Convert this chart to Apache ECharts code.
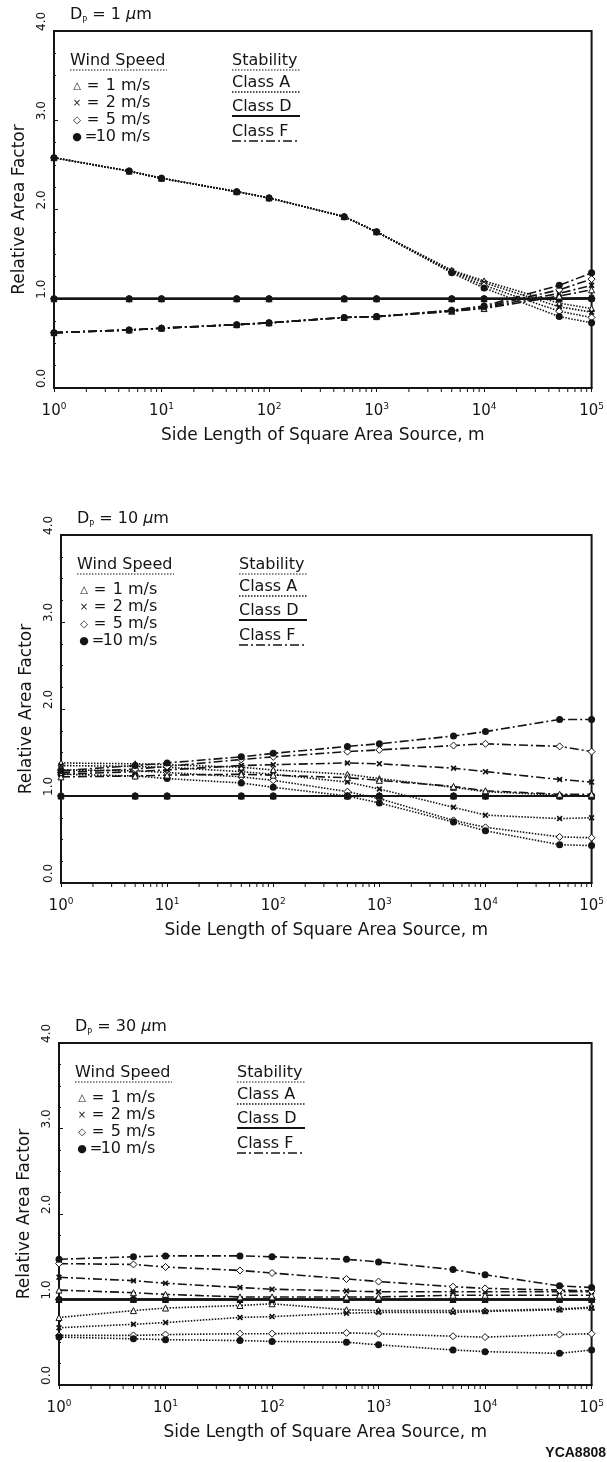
<!DOCTYPE html>
<html><head><meta charset="utf-8">
<script src="https://cdn.jsdelivr.net/npm/echarts@6/dist/echarts.min.js"></script>
<style>html,body{margin:0;padding:0;background:#fff}#c{width:607px;height:1462px}</style>
</head><body><div id="c"></div>
<script>
// ---------- data ----------
const sideLengths = [1, 5, 10, 50, 100, 500, 1000, 5000, 10000, 50000, 100000];
const xMinorTicks = [2,3,4,5,6,7,8,9, 20,30,40,50,60,70,80,90, 200,300,400,500,600,700,800,900,
  2000,3000,4000,5000,6000,7000,8000,9000, 20000,30000,40000,50000,60000,70000,80000,90000];
const particleSizes = ['1', '10', '30'];
const windSpeeds = ['1', '2', '5', '10'];
const windSymbols = ['△', '×', '◇', '●'];
const stabilityClasses = ['Class A', 'Class D', 'Class F'];

// Panel 1: Dp = 1 um
const p1A1  = [2.58, 2.43, 2.35, 2.20, 2.13, 1.92, 1.75, 1.32, 1.20, 0.95, 0.89];
const p1A2  = [2.58, 2.43, 2.35, 2.20, 2.13, 1.92, 1.75, 1.31, 1.18, 0.91, 0.85];
const p1A5  = [2.58, 2.43, 2.35, 2.20, 2.13, 1.92, 1.75, 1.30, 1.15, 0.86, 0.79];
const p1A10 = [2.58, 2.43, 2.35, 2.20, 2.13, 1.92, 1.75, 1.29, 1.12, 0.80, 0.73];
const p1D1  = [1.00, 1.00, 1.00, 1.00, 1.00, 1.00, 1.00, 1.00, 1.00, 1.00, 1.01];
const p1D2  = [1.00, 1.00, 1.00, 1.00, 1.00, 1.00, 1.00, 1.00, 1.00, 1.00, 1.01];
const p1D5  = [1.00, 1.00, 1.00, 1.00, 1.00, 1.00, 1.00, 1.00, 1.00, 1.00, 1.00];
const p1D10 = [1.00, 1.00, 1.00, 1.00, 1.00, 1.00, 1.00, 1.00, 1.00, 1.00, 1.00];
const p1F1  = [0.62, 0.65, 0.67, 0.71, 0.73, 0.79, 0.80, 0.86, 0.89, 1.03, 1.10];
const p1F2  = [0.62, 0.65, 0.67, 0.71, 0.73, 0.79, 0.80, 0.86, 0.90, 1.06, 1.15];
const p1F5  = [0.62, 0.65, 0.67, 0.71, 0.73, 0.79, 0.80, 0.87, 0.91, 1.10, 1.22];
const p1F10 = [0.62, 0.65, 0.67, 0.71, 0.73, 0.79, 0.80, 0.87, 0.92, 1.15, 1.29];

// Panel 2: Dp = 10 um
const p2A1  = [1.38, 1.37, 1.36, 1.33, 1.30, 1.25, 1.20, 1.10, 1.05, 1.01, 1.00];
const p2A2  = [1.35, 1.34, 1.33, 1.28, 1.25, 1.16, 1.08, 0.87, 0.78, 0.74, 0.75];
const p2A5  = [1.30, 1.29, 1.27, 1.22, 1.18, 1.05, 0.97, 0.72, 0.64, 0.53, 0.52];
const p2A10 = [1.25, 1.23, 1.20, 1.15, 1.10, 1.00, 0.92, 0.70, 0.60, 0.44, 0.43];
const p2D1  = [1.00, 1.00, 1.00, 1.00, 1.00, 1.00, 1.00, 1.00, 1.00, 1.00, 1.00];
const p2D2  = [1.00, 1.00, 1.00, 1.00, 1.00, 1.00, 1.00, 1.00, 1.00, 1.00, 1.00];
const p2D5  = [1.00, 1.00, 1.00, 1.00, 1.00, 1.00, 1.00, 1.00, 1.00, 1.00, 1.00];
const p2D10 = [1.00, 1.00, 1.00, 1.00, 1.00, 1.00, 1.00, 1.00, 1.00, 1.00, 1.00];
const p2F1  = [1.22, 1.23, 1.24, 1.25, 1.24, 1.21, 1.18, 1.11, 1.06, 1.02, 1.02];
const p2F2  = [1.25, 1.28, 1.30, 1.35, 1.36, 1.38, 1.37, 1.32, 1.28, 1.19, 1.16];
const p2F5  = [1.27, 1.31, 1.34, 1.42, 1.45, 1.51, 1.53, 1.58, 1.60, 1.57, 1.51];
const p2F10 = [1.29, 1.35, 1.38, 1.45, 1.49, 1.57, 1.60, 1.69, 1.74, 1.88, 1.88];

// Panel 3: Dp = 30 um
const p3A1  = [0.79, 0.87, 0.90, 0.93, 0.95, 0.88, 0.87, 0.87, 0.87, 0.89, 0.91];
const p3A2  = [0.67, 0.71, 0.73, 0.79, 0.80, 0.84, 0.85, 0.85, 0.86, 0.88, 0.90];
const p3A5  = [0.58, 0.58, 0.59, 0.60, 0.60, 0.61, 0.60, 0.57, 0.56, 0.59, 0.60];
const p3A10 = [0.56, 0.54, 0.53, 0.52, 0.51, 0.50, 0.47, 0.41, 0.39, 0.37, 0.41];
const p3D1  = [1.00, 1.00, 1.00, 1.00, 1.00, 1.00, 1.00, 1.00, 1.00, 1.00, 1.00];
const p3D2  = [1.00, 1.00, 1.00, 1.00, 1.00, 1.00, 1.00, 1.00, 1.00, 1.00, 1.00];
const p3D5  = [1.00, 1.00, 1.00, 1.00, 1.00, 1.00, 1.00, 1.00, 1.00, 1.00, 1.00];
const p3D10 = [1.00, 1.00, 1.00, 1.00, 1.00, 1.00, 1.00, 1.00, 1.00, 1.00, 1.00];
const p3F1  = [1.11, 1.08, 1.06, 1.03, 1.03, 1.03, 1.03, 1.05, 1.05, 1.05, 1.05];
const p3F2  = [1.26, 1.22, 1.19, 1.14, 1.12, 1.10, 1.09, 1.09, 1.09, 1.09, 1.09];
const p3F5  = [1.42, 1.41, 1.38, 1.34, 1.31, 1.24, 1.21, 1.15, 1.13, 1.11, 1.10];
const p3F10 = [1.47, 1.50, 1.51, 1.51, 1.50, 1.47, 1.44, 1.35, 1.29, 1.16, 1.14];

// ---------- layout / style ----------
const FONT = 'DejaVu Sans';
const INK = '#141414';
const grids = [
  {left: 54, top: 31, width: 538, height: 357},
  {left: 61, top: 535, width: 536, height: 348},
  {left: 59, top: 1043, width: 538, height: 342}
];
const panels = [
  {A: [p1A1, p1A2, p1A5, p1A10], D: [p1D1, p1D2, p1D5, p1D10], F: [p1F1, p1F2, p1F5, p1F10]},
  {A: [p2A1, p2A2, p2A5, p2A10], D: [p2D1, p2D2, p2D5, p2D10], F: [p2F1, p2F2, p2F5, p2F10]},
  {A: [p3A1, p3A2, p3A5, p3A10], D: [p3D1, p3D2, p3D5, p3D10], F: [p3F1, p3F2, p3F5, p3F10]}
];
const crossPath = 'path://M2,0 L5,3 L8,0 L10,2 L7,5 L10,8 L8,10 L5,7 L2,10 L0,8 L3,5 L0,2 Z';
const markerStyles = [
  {symbol: 'triangle', symbolSize: 6, itemStyle: {color: '#fff', borderColor: INK, borderWidth: 1}},
  {symbol: crossPath, symbolSize: 6, itemStyle: {color: INK, borderWidth: 0}},
  {symbol: 'diamond', symbolSize: 7, itemStyle: {color: '#fff', borderColor: INK, borderWidth: 1}},
  {symbol: 'circle', symbolSize: 7, itemStyle: {color: INK, borderWidth: 0}}
];
const lineStyles = {
  A: {color: INK, width: 1.6, type: [1.5, 1.5]},
  D: {color: INK, width: 1.8, type: 'solid'},
  F: {color: INK, width: 1.6, type: [9, 3, 2, 3]}
};

const xAxes = [], yAxes = [], series = [], titles = [], graphics = [];
grids.forEach((g, i) => {
  xAxes.push({
    type: 'log', logBase: 10, min: 1, max: 100000, gridIndex: i,
    name: 'Side Length of Square Area Source, m', nameLocation: 'middle', nameGap: 39,
    nameTextStyle: {fontFamily: FONT, fontSize: 17, color: INK},
    axisLine: {lineStyle: {color: INK, width: 2}},
    axisTick: {show: true, inside: false, length: 4, lineStyle: {color: INK, width: 1}},
    splitLine: {show: false},
    axisLabel: {
      margin: 14, showMinLabel: true, showMaxLabel: true,
      formatter: v => '{a|10}{b|' + Math.round(Math.log10(v)) + '}',
      rich: {
        a: {fontFamily: FONT, fontSize: 15, color: INK, lineHeight: 18},
        b: {fontFamily: FONT, fontSize: 9, color: INK, lineHeight: 9, verticalAlign: 'top'}
      }
    }
  });
  yAxes.push({
    type: 'value', min: 0, max: 4, interval: 1, gridIndex: i,
    name: 'Relative Area Factor', nameLocation: 'middle', nameGap: 26, nameRotate: 90,
    nameTextStyle: {fontFamily: FONT, fontSize: 17, color: INK},
    axisLine: {show: true, lineStyle: {color: INK, width: 2}},
    axisTick: {show: true, inside: true, length: 4, lineStyle: {color: INK}},
    minorTick: {show: true, splitNumber: 4, length: 2, lineStyle: {color: INK}},
    splitLine: {show: false},
    axisLabel: {
      rotate: 90, margin: 6, align: 'left', verticalAlign: 'bottom',
      fontFamily: FONT, fontSize: 12, color: INK,
      formatter: v => v.toFixed(1)
    }
  });
  titles.push({
    left: g.left + 16, top: g.top - 26, padding: 0,
    text: '{a|D}{b|P}{a| = ' + particleSizes[i] + ' }{c|µ}{a|m}',
    textStyle: {fontWeight: 'normal', rich: {
      a: {fontFamily: FONT, fontSize: 16, fontWeight: 'normal', color: INK, lineHeight: 20},
      b: {fontFamily: FONT, fontSize: 8, fontWeight: 'normal', color: INK, verticalAlign: 'bottom', lineHeight: 14},
      c: {fontFamily: FONT, fontSize: 16, fontWeight: 'normal', fontStyle: 'italic', color: INK, lineHeight: 20}
    }}
  });
  const p = panels[i];
  ['A', 'D', 'F'].forEach(cls => {
    p[cls].forEach((vals, w) => {
      series.push(Object.assign({
        type: 'line', name: 'Class ' + cls + ' ' + windSpeeds[w] + ' m/s',
        xAxisIndex: i, yAxisIndex: i,
        data: sideLengths.map((x, k) => [x, vals[k]]),
        lineStyle: lineStyles[cls], showAllSymbol: true, silent: true, animation: false
      }, markerStyles[w]));
    });
  });
  // minor log ticks on the x axis
  series.push({
    type: 'custom', xAxisIndex: i, yAxisIndex: i, silent: true, clip: false, animation: false,
    data: xMinorTicks.map(x => [x, 0]),
    renderItem: (params, api) => {
      const pt = api.coord([api.value(0), api.value(1)]);
      return {type: 'line', shape: {x1: pt[0], y1: pt[1] + 1, x2: pt[0], y2: pt[1] + 4},
        style: {stroke: INK, lineWidth: 1}};
    }
  });

  // in-plot key (text block)
  const gx = g.left, gy = g.top;
  const txt = (x, y, s, align, extra) => graphics.push({type: 'text', x: x, y: y, silent: true, z: 100,
    style: Object.assign({text: s, fontFamily: FONT, fontSize: 15, fill: INK, align: align || 'left', verticalAlign: 'middle'}, extra || {})});
  const uline = (x1, x2, y, dash, w) => graphics.push({type: 'line', silent: true, z: 100,
    shape: {x1: x1, y1: y, x2: x2, y2: y}, style: {stroke: INK, lineWidth: w || 1.2, lineDash: dash}});
  txt(gx + 16, gy + 30, 'Wind Speed', 'left', {fontSize: 16});
  uline(gx + 16, gx + 113, gy + 39, [1.5, 1.5]);
  windSpeeds.forEach((ws, k) => {
    const y = gy + 55 + 17 * k;
    txt(gx + 23, y, windSymbols[k], 'center', {fontSize: k === 3 ? 11 : 10});
    txt(gx + (k === 3 ? 37 : 39), y, '=', 'center', {fontSize: 15});
    txt(gx + 62, y, ws, 'right', {fontSize: 16});
    txt(gx + 67, y, 'm/s', 'left', {fontSize: 16});
  });
  txt(gx + 178, gy + 30, 'Stability', 'left', {fontSize: 16});
  uline(gx + 178, gx + 246, gy + 39, [1.5, 1.5]);
  const clsY = [52, 76, 101];
  const clsDash = [[1.5, 1.5], null, [9, 3, 2, 3]];
  stabilityClasses.forEach((c, k) => {
    txt(gx + 178, gy + clsY[k], c, 'left', {fontSize: 16});
    uline(gx + 178, gx + 246, gy + clsY[k] + 9, clsDash[k], k === 1 ? 2 : 1.4);
  });
});
graphics.push({type: 'text', x: 606, y: 1453, silent: true,
  style: {text: 'YCA8808', fontFamily: 'Liberation Sans', fontSize: 14, fontWeight: 'bold', fill: INK, align: 'right', verticalAlign: 'middle'}});

const chart = echarts.init(document.getElementById('c'), null, {renderer: 'canvas'});
chart.setOption({
  animation: false,
  backgroundColor: '#fff',
  title: titles,
  grid: grids.map(g => Object.assign({show: true, borderColor: INK, borderWidth: 2, backgroundColor: 'transparent', containLabel: false}, g)),
  xAxis: xAxes,
  yAxis: yAxes,
  series: series,
  graphic: graphics
});
</script></body></html>
